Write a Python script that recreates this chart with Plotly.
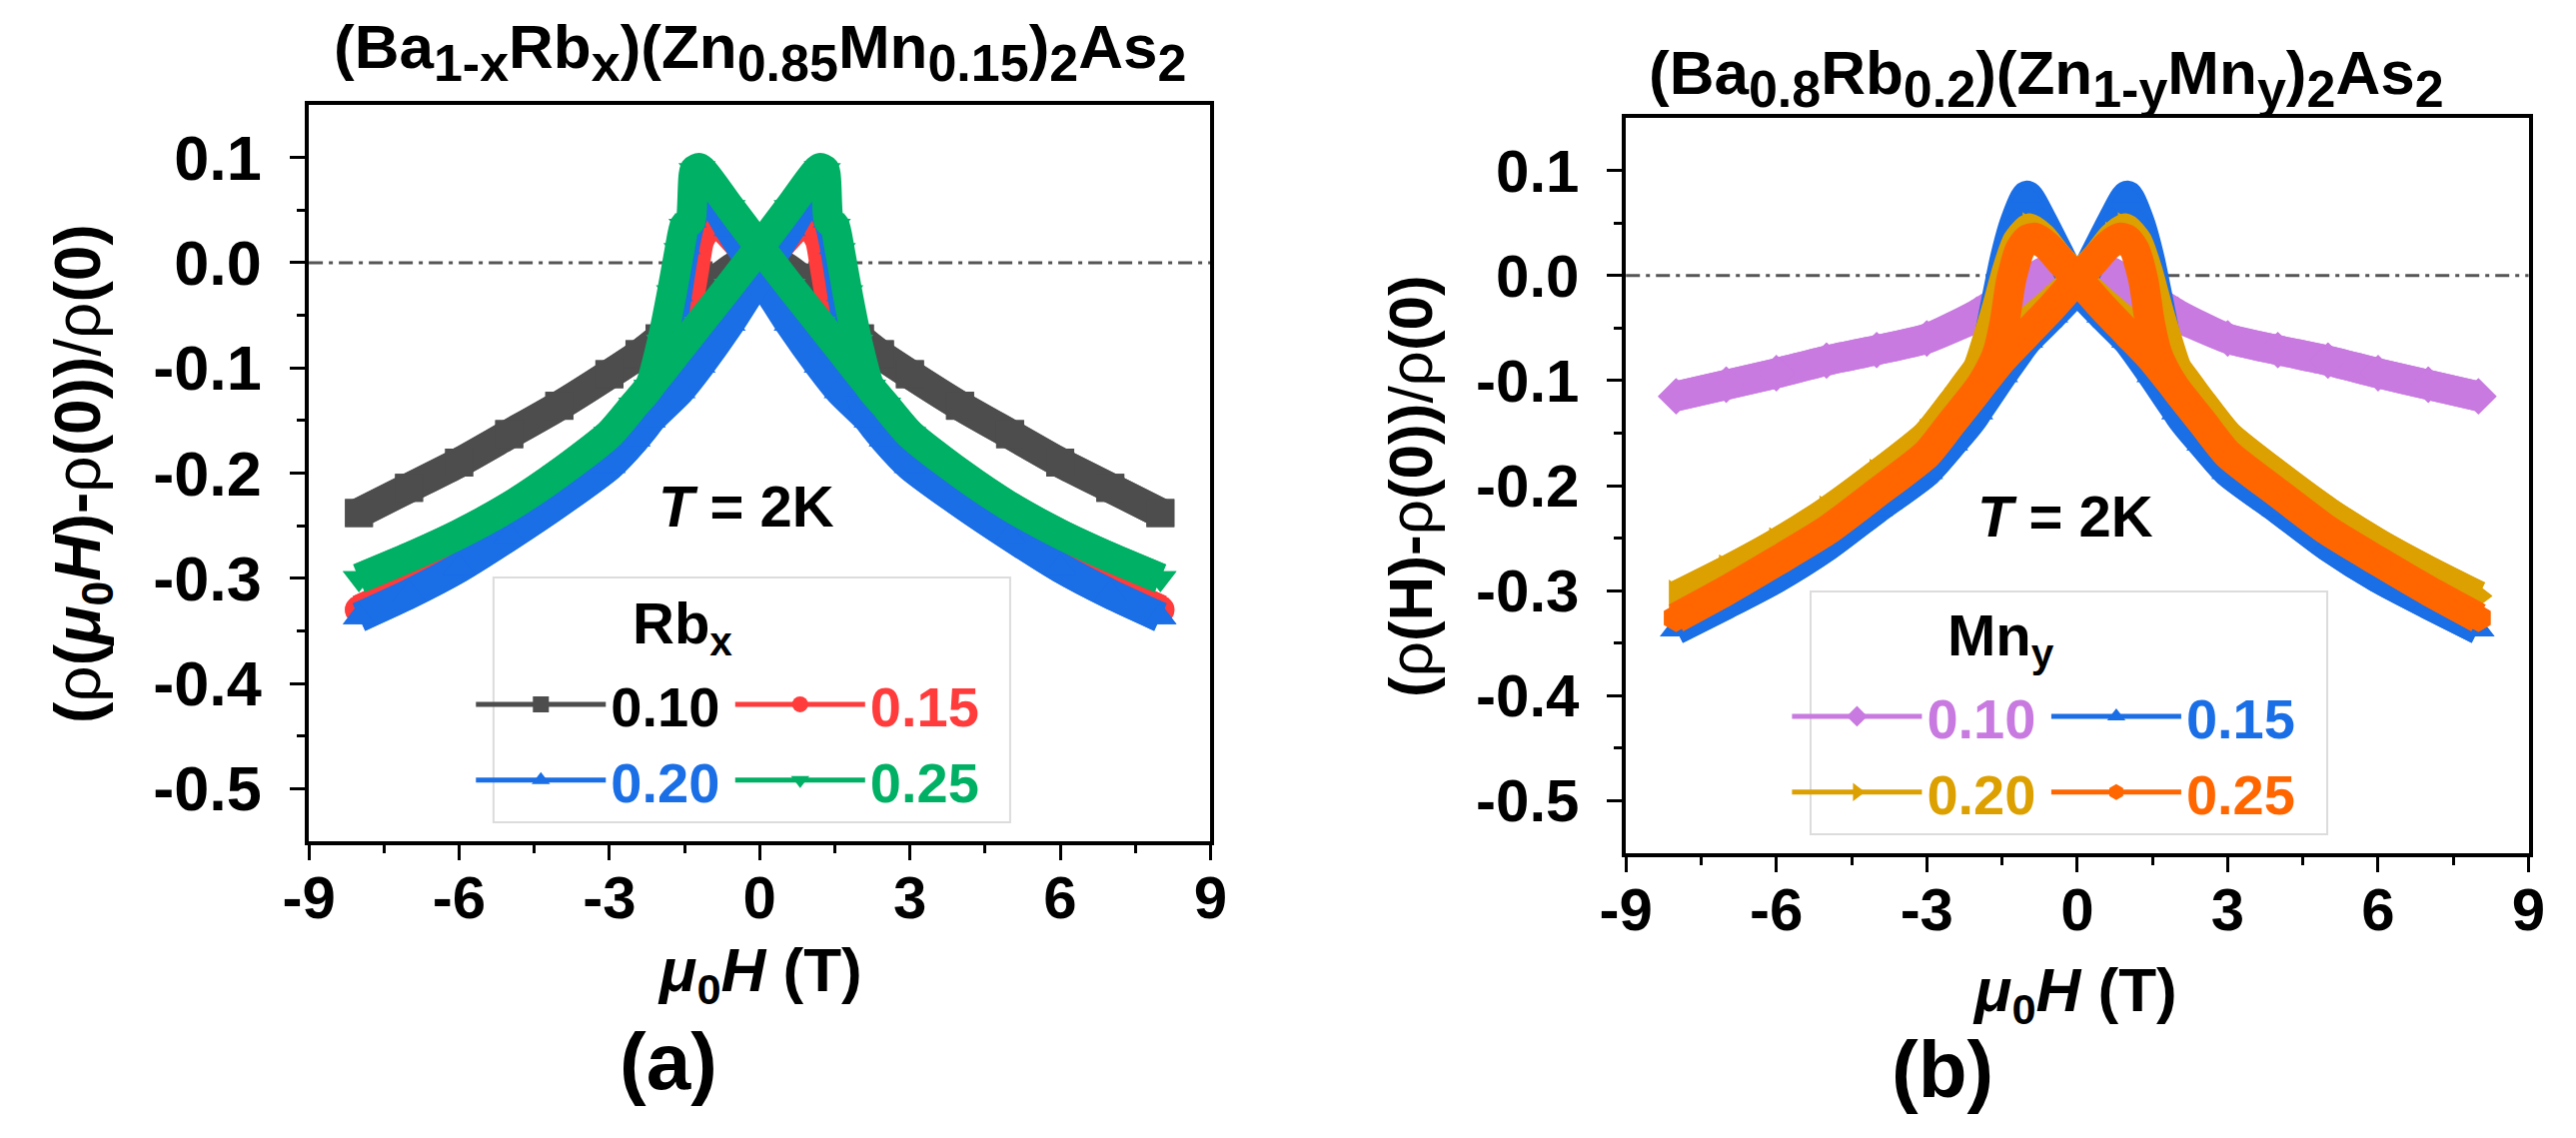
import plotly.graph_objects as go

W, H = 2578, 1139

# ---- (a) (Ba1-xRbx)(Zn0.85Mn0.15)2As2, field sweep with peak at negative field ----
h_rb10 = [-8, -7, -6, -5, -4, -3, -2.4, -2, -1.5, -1.2, -0.8, -0.35, 0, 0.35, 0.8, 1.2, 1.5, 2, 2.4, 3, 4, 5, 6, 7, 8]
mr_rb10 = [-0.238, -0.214, -0.190, -0.163, -0.136, -0.106, -0.087, -0.072, -0.050, -0.033, -0.014, 0.000, -0.007,
           -0.018, -0.030, -0.041, -0.050, -0.072, -0.087, -0.106, -0.136, -0.163, -0.190, -0.214, -0.238]

h_rb15 = [-8, -7, -6, -5, -4, -3, -2.5, -2, -1.8, -1.6, -1.45, -1.32, -1.2, -1.0, -0.8, -0.5, -0.25, 0,
          0.5, 1.0, 1.5, 2, 2.5, 3, 4, 5, 6, 7, 8]
mr_rb15 = [-0.330, -0.308, -0.284, -0.255, -0.223, -0.188, -0.163, -0.135, -0.105, -0.070, -0.045, -0.010, 0.022,
           0.036, 0.036, 0.022, 0.008, -0.006, -0.040, -0.075, -0.107, -0.135, -0.163, -0.188, -0.223, -0.255,
           -0.284, -0.308, -0.330]

h_rb20 = [-8, -7, -6, -5, -4, -3, -2.5, -2.2, -2.0, -1.8, -1.65, -1.5, -1.38, -1.3, -1.25, -1.15, -0.6, 0,
          0.6, 1.2, 1.6, 2.2, 2.5, 3, 4, 5, 6, 7, 8]
mr_rb20 = [-0.337, -0.315, -0.290, -0.260, -0.228, -0.193, -0.168, -0.150, -0.120, -0.075, -0.030, 0.015, 0.040,
           0.048, 0.075, 0.075, 0.032, -0.013, -0.058, -0.098, -0.122, -0.150, -0.168, -0.193, -0.228, -0.260,
           -0.290, -0.315, -0.337]

h_rb25 = [-8, -7, -6, -5, -4, -3, -2.5, -2.2, -1.95, -1.75, -1.6, -1.5, -1.38, -1.3, -1.2, -0.6, 0, 0.6, 1.2,
          1.6, 2.2, 2.5, 3, 4, 5, 6, 7, 8]
mr_rb25 = [-0.300, -0.280, -0.258, -0.232, -0.200, -0.163, -0.135, -0.118, -0.075, -0.028, 0.012, 0.035, 0.040,
           0.088, 0.090, 0.053, 0.015, -0.022, -0.058, -0.082, -0.118, -0.135, -0.163, -0.200, -0.232, -0.258,
           -0.280, -0.300]

# ---- (b) (Ba0.8Rb0.2)(Zn1-yMny)2As2 ----
h_mn10 = [-8, -7, -6, -5, -4, -3, -2, -1.5, -1.0, -0.6, -0.3, 0, 0.3, 0.6, 1.0, 1.5, 2, 3, 4, 5, 6, 7, 8]
mr_mn10 = [-0.115, -0.104, -0.093, -0.081, -0.071, -0.060, -0.037, -0.022, -0.006, 0.005, 0.001, -0.007, -0.014,
           -0.020, -0.026, -0.031, -0.040, -0.060, -0.071, -0.081, -0.093, -0.104, -0.115]

h_mn15 = [-8, -7, -6, -5, -4, -3, -2.5, -2.0, -1.8, -1.6, -1.45, -1.25, -1.0, -0.7, -0.4, 0, 0.5, 1.0, 1.5,
          2.0, 2.5, 3, 4, 5, 6, 7, 8]
mr_mn15 = [-0.337, -0.313, -0.288, -0.258, -0.222, -0.187, -0.160, -0.130, -0.070, -0.020, 0.015, 0.050, 0.076,
           0.052, 0.024, -0.012, -0.038, -0.062, -0.095, -0.130, -0.160, -0.187, -0.222, -0.258, -0.288, -0.313,
           -0.337]

h_mn20 = [-8, -7, -6, -5, -4, -3, -2.5, -2.0, -1.8, -1.6, -1.4, -1.2, -0.95, -0.7, -0.4, 0, 0.5, 1.0, 1.5,
          2.0, 2.5, 3, 4, 5, 6, 7, 8]
mr_mn20 = [-0.305, -0.281, -0.255, -0.225, -0.190, -0.152, -0.122, -0.090, -0.062, -0.030, 0.005, 0.032, 0.045,
           0.036, 0.018, -0.002, -0.025, -0.045, -0.066, -0.090, -0.122, -0.152, -0.190, -0.225, -0.255, -0.281,
           -0.305]

h_mn25 = [-8, -7, -6, -5, -4, -3, -2.5, -2.0, -1.8, -1.6, -1.45, -1.32, -1.15, -1.0, -0.85, -0.6, -0.3, 0,
          0.5, 1.0, 1.5, 2.0, 2.5, 3, 4, 5, 6, 7, 8]
mr_mn25 = [-0.326, -0.300, -0.272, -0.243, -0.207, -0.170, -0.140, -0.110, -0.095, -0.075, -0.045, -0.005, 0.024,
           0.034, 0.036, 0.028, 0.012, -0.003, -0.030, -0.055, -0.080, -0.110, -0.140, -0.170, -0.207, -0.243,
           -0.272, -0.300, -0.326]

labels = ["0.10", "0.15", "0.20", "0.25"]

x_tickvals = [-9, -6, -3, 0, 3, 6, 9]
x_ticktext = ["-9", "-6", "-3", "0", "3", "6", "9"]
x_minor = [-7.5, -4.5, -1.5, 1.5, 4.5, 7.5]
y_tickvals = [-0.5, -0.4, -0.3, -0.2, -0.1, 0.0, 0.1]
y_ticktext = ["-0.5", "-0.4", "-0.3", "-0.2", "-0.1", "0.0", "0.1"]
y_minor = [-0.45, -0.35, -0.25, -0.15, -0.05, 0.05]

FONT = "Liberation Sans, Arial, sans-serif"


def px(x):
    return x / W


def py(y):
    return 1 - y / H


def both_sweeps(h, mr):
    # the return sweep is the mirror image in field; None breaks the line between sweeps
    xs = list(h) + [None] + [-v for v in h]
    ys = list(mr) + [None] + list(mr)
    return xs, ys


def sub(t):
    # Origin-style subscripts are only a little smaller than the text
    return "<sub><span style='font-size:52px'>%s</span></sub>" % t


series_a = [
    (h_rb10, mr_rb10, "#4d4d4d", "square", "black"),
    (h_rb15, mr_rb15, "#ff3b3b", "circle", "#ff3b3b"),
    (h_rb20, mr_rb20, "#1a6ee6", "triangle-up", "#1a6ee6"),
    (h_rb25, mr_rb25, "#00b064", "triangle-down", "#00b064"),
]
series_b = [
    (h_mn10, mr_mn10, "#c87ae0", "diamond", "#c87ae0"),
    (h_mn15, mr_mn15, "#1a6ee6", "triangle-up", "#1a6ee6"),
    (h_mn20, mr_mn20, "#dca000", "triangle-right", "#dca000"),
    (h_mn25, mr_mn25, "#ff6600", "hexagon", "#ff6600"),
]

fig = go.Figure()

for panel, series, legs in (("", series_a, ("legend", "legend2")), ("2", series_b, ("legend3", "legend4"))):
    for i, (h, mr, col, sym, tcol) in enumerate(series):
        xs, ys = both_sweeps(h, mr)
        fig.add_trace(go.Scatter(
            x=xs, y=ys, mode="lines+markers", xaxis="x" + panel, yaxis="y" + panel,
            line=dict(color=col, width=30, shape="spline", smoothing=0.6),
            marker=dict(symbol=sym, size=28, color=col),
            showlegend=False, hoverinfo="skip"))
    # legend entries, two columns per panel
    for i, (h, mr, col, sym, tcol) in enumerate(series):
        fig.add_trace(go.Scatter(
            x=[None], y=[None], mode="lines+markers", xaxis="x" + panel, yaxis="y" + panel,
            line=dict(color=col, width=5), marker=dict(symbol=sym, size=18, color=col),
            name="<span style='color:%s'>%s</span>" % (tcol, labels[i]),
            legend=legs[i % 2]))

axis_common = dict(showgrid=False, zeroline=False, showline=True, linecolor="black", linewidth=3.5,
                   mirror=True, ticks="outside", ticklen=15, tickwidth=3, tickcolor="black",
                   tickfont=dict(family=FONT, size=60, color="black", weight="bold"))

xa = dict(axis_common, range=[-9, 9], tickmode="array", tickvals=x_tickvals, ticktext=x_ticktext,
          minor=dict(tickmode="array", tickvals=x_minor, ticks="outside", ticklen=8, tickwidth=3, tickcolor="black"),
          ticklabelstandoff=-14)
ya = dict(axis_common, range=[-0.55, 0.15], tickmode="array", tickvals=y_tickvals, ticktext=y_ticktext,
          minor=dict(tickmode="array", tickvals=y_minor, ticks="outside", ticklen=8, tickwidth=3, tickcolor="black"),
          ticklabelstandoff=16)

fig.update_layout(
    width=W, height=H, margin=dict(l=0, r=0, t=0, b=0),
    paper_bgcolor="white", plot_bgcolor="white",
    font=dict(family=FONT, color="black"),
    xaxis=dict(xa, domain=[px(287), px(1205)], anchor="y"),
    yaxis=dict(ya, domain=[py(842), py(105)], anchor="x", tickfont=dict(family=FONT, size=63, weight="bold")),
    xaxis2=dict(xa, domain=[px(1628), px(2547)], anchor="y2"),
    yaxis2=dict(ya, domain=[py(854), py(118)], anchor="x2"),
)

leg_common = dict(bgcolor="rgba(0,0,0,0)", borderwidth=0, xanchor="left", yanchor="top",
                  font=dict(family=FONT, size=56, weight="bold"), itemwidth=130, tracegroupgap=0)
fig.update_layout(
    legend=dict(leg_common, x=px(452), y=py(662)),
    legend2=dict(leg_common, x=px(716), y=py(662)),
    legend3=dict(leg_common, x=px(1792), y=py(674)),
    legend4=dict(leg_common, x=px(2056), y=py(674)),
)

# legend frames, zero lines
fig.add_shape(type="rect", xref="paper", yref="paper", x0=px(475), x1=px(1001), y0=py(823), y1=py(578),
              line=dict(color="#dcdcdc", width=2), fillcolor="white", layer="above")
fig.add_shape(type="rect", xref="paper", yref="paper", x0=px(1816), x1=px(2342), y0=py(835), y1=py(592),
              line=dict(color="#dcdcdc", width=2), fillcolor="white", layer="above")
for xr, yr in (("x", "y"), ("x2", "y2")):
    fig.add_shape(type="line", xref=xr + " domain", yref=yr, x0=0, x1=1, y0=0, y1=0,
                  line=dict(color="#555555", width=3, dash="14px,6px,4px,6px"), layer="below")


def note(text, x, y, size, angle=0, xanchor="center", yanchor="middle"):
    fig.add_annotation(text=text, x=px(x), y=py(y), xref="paper", yref="paper", showarrow=False,
                       font=dict(family=FONT, size=size, color="black"), textangle=angle,
                       xanchor=xanchor, yanchor=yanchor)


note("<b>(Ba%sRb%s)(Zn%sMn%s)%sAs%s</b>" % (sub("1-x"), sub("x"), sub("0.85"), sub("0.15"), sub("2"), sub("2")),
     746, 52, 62)
note("<b>(Ba%sRb%s)(Zn%sMn%s)%sAs%s</b>" % (sub("0.8"), sub("0.2"), sub("1-y"), sub("y"), sub("2"), sub("2")),
     2056, 78, 62)
note("<b>(</b>ρ<b>(<i>μ</i><sub>0</sub><i>H</i>)-</b>ρ<b>(0))</b>/ρ<b>(0)</b>", 56, 474, 64, angle=-90)
note("<b>(</b>ρ<b>(H)-</b>ρ<b>(0))</b>/ρ<b>(0)</b>", 1408, 486, 62, angle=-90)
note("<b><i>μ</i><sub>0</sub><i>H</i> (T)</b>", 746, 975, 62)
note("<b><i>μ</i><sub>0</sub><i>H</i> (T)</b>", 2085, 995, 62)
note("<b>(a)</b>", 653, 1062, 80)
note("<b>(b)</b>", 1950, 1070, 80)
note("<b><i>T</i> = 2K</b>", 733, 506, 58)
note("<b><i>T</i> = 2K</b>", 2075, 516, 58)
note("<b>Rb<sub>x</sub></b>", 614, 628, 58, xanchor="left")
note("<b>Mn<sub>y</sub></b>", 1953, 640, 58, xanchor="left")

fig.write_html("out.html", config={"displayModeBar": False},
               post_script="document.body.style.margin='0px';")
